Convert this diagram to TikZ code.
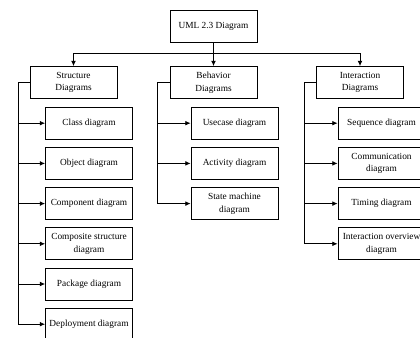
\documentclass[tikz,border=0pt]{standalone}
\usepackage{fontspec}
\setmainfont{Liberation Serif}
\usetikzlibrary{positioning,arrows.meta}

\begin{document}
\begin{tikzpicture}[x=.75pt,y=-.75pt,>={Latex[length=4pt,width=3.6pt]},
    caja/.style={draw,line width=.6pt,minimum width=65.25pt,minimum height=24pt,
      inner sep=1pt,align=center,font=\fontsize{7}{9.5}\selectfont},
    enlace/.style={line width=.6pt}]
    \useasboundingbox (0,0) rectangle (420,338);
    \clip (0,0) rectangle (420,338);

    \node[caja] (uml) at (213.5,26) {UML 2.3 Diagram};
    \node[caja] (str) at (73.5,82.5) {Structure\\Diagrams};
    \node[caja] (beh) at (213.5,82.5) {Behavior\\Diagrams};
    \node[caja] (int) at (360,82.5) {Interaction\\Diagrams};
    \coordinate (bus) at (213.5,53);

    \draw[enlace,->] (uml.south) -- (bus) -| (str.north);
    \draw[enlace,->] (bus) -- (beh.north);
    \draw[enlace,->] (bus) -| (int.north);

    % hijos de cada rama
    \foreach \n/\t [count=\i] in {cls/Class diagram,obj/Object diagram,
        cmp/Component diagram,cst/{Composite structure\\diagram},
        pkg/Package diagram,dep/Deployment diagram}
      \node[caja] (\n) at (89,83+40.2*\i) {\t};
    \foreach \n/\t [count=\i] in {use/Usecase diagram,act/Activity diagram,
        stm/{State machine\\diagram}}
      \node[caja] (\n) at (234.5,83+40.2*\i) {\t};
    \foreach \n/\t [count=\i] in {seq/Sequence diagram,com/{Communication\\diagram},
        tim/Timing diagram,iov/{Interaction overview\\diagram}}
      \node[caja] (\n) at (381.5,83+40.2*\i) {\t};

    \coordinate (strbus) at (18,82.5);
    \coordinate (behbus) at (157,82.5);
    \coordinate (intbus) at (304,82.5);

    \draw[enlace] (str.west) -- (strbus);
    \draw[enlace] (beh.west) -- (behbus);
    \draw[enlace] (int.west) -- (intbus);
    \foreach \n in {cls,obj,cmp,cst,pkg,dep}
      \draw[enlace,->] (strbus) |- (\n.west);
    \foreach \n in {use,act,stm}
      \draw[enlace,->] (behbus) |- (\n.west);
    \foreach \n in {seq,com,tim,iov}
      \draw[enlace,->] (intbus) |- (\n.west);
\end{tikzpicture}
\end{document}
